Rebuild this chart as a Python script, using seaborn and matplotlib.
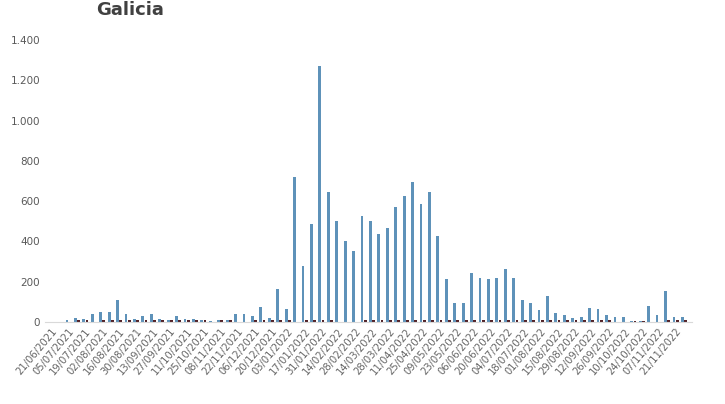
import matplotlib
matplotlib.use("Agg")
import matplotlib.pyplot as plt
import matplotlib.ticker as mticker
import numpy as np
import pandas as pd
import seaborn as sns

weeks = pd.date_range("2021-06-21", periods=76, freq="7D").strftime("%d/%m/%Y").tolist()

casos = [0, 0, 10, 20, 15, 40, 50, 50, 110, 40, 15, 30, 40, 15, 10, 30, 15, 15, 10, 5,
         10, 10, 40, 40, 30, 75, 20, 165, 65, 720, 280, 485, 1270, 645, 500, 400, 350,
         525, 500, 435, 465, 570, 625, 695, 585, 645, 425, 215, 95, 95, 245, 220, 215,
         220, 265, 220, 110, 95, 60, 130, 45, 35, 20, 25, 70, 65, 35, 25, 25, 5, 5, 80,
         35, 155, 25, 25]
otros = [0, 0, 0, 12, 10, 0, 12, 12, 12, 12, 10, 10, 12, 10, 10, 10, 10, 10, 10, 0,
         10, 10, 0, 0, 12, 12, 12, 12, 12, 0, 12, 12, 12, 12, 0, 0, 0,
         12, 12, 12, 12, 12, 12, 12, 12, 12, 12, 12, 12, 12, 12, 12, 12,
         12, 12, 12, 12, 12, 12, 12, 12, 12, 12, 12, 12, 12, 12, 0, 0, 5, 5, 0,
         0, 12, 12, 12]

df = pd.DataFrame({"semana": weeks * 2,
                   "valor": casos + otros,
                   "serie": ["casos"] * 76 + ["otros"] * 76})

sns.set_style("white")
fig = plt.figure(figsize=(7.25, 4.04), dpi=100)
ax = fig.add_axes([0.062, 0.203, 0.893, 0.698])
sns.barplot(data=df, x="semana", y="valor", hue="serie",
            palette=["#4f94c8", "#5a1a22"], width=0.75, gap=0.1, linewidth=0,
            legend=False, ax=ax)

ax.set_ylim(0, 1400)
ax.set_yticks(range(0, 1401, 200))
ax.yaxis.set_major_formatter(mticker.FuncFormatter(lambda v, p: f"{int(v):,}".replace(",", ".")))
ax.set_xticks(range(0, 76, 2))
ax.set_xticklabels(weeks[::2], rotation=50, ha="right", rotation_mode="anchor")
ax.tick_params(axis="x", labelsize=7.2, labelcolor="#666666", length=0, pad=3)
ax.tick_params(axis="y", labelsize=7.5, labelcolor="#595959", length=0)
ax.set_xlim(-0.8, 76)
ax.set_xlabel("")
ax.set_ylabel("")
for s in ["top", "right", "left"]:
    ax.spines[s].set_visible(False)
ax.spines["bottom"].set_color("#d9d9d9")
fig.text(0.18, 0.975, "Galicia", fontsize=13, fontweight="bold", color="#404040",
         ha="center", va="center")

fig.savefig("out.png", dpi=100)
